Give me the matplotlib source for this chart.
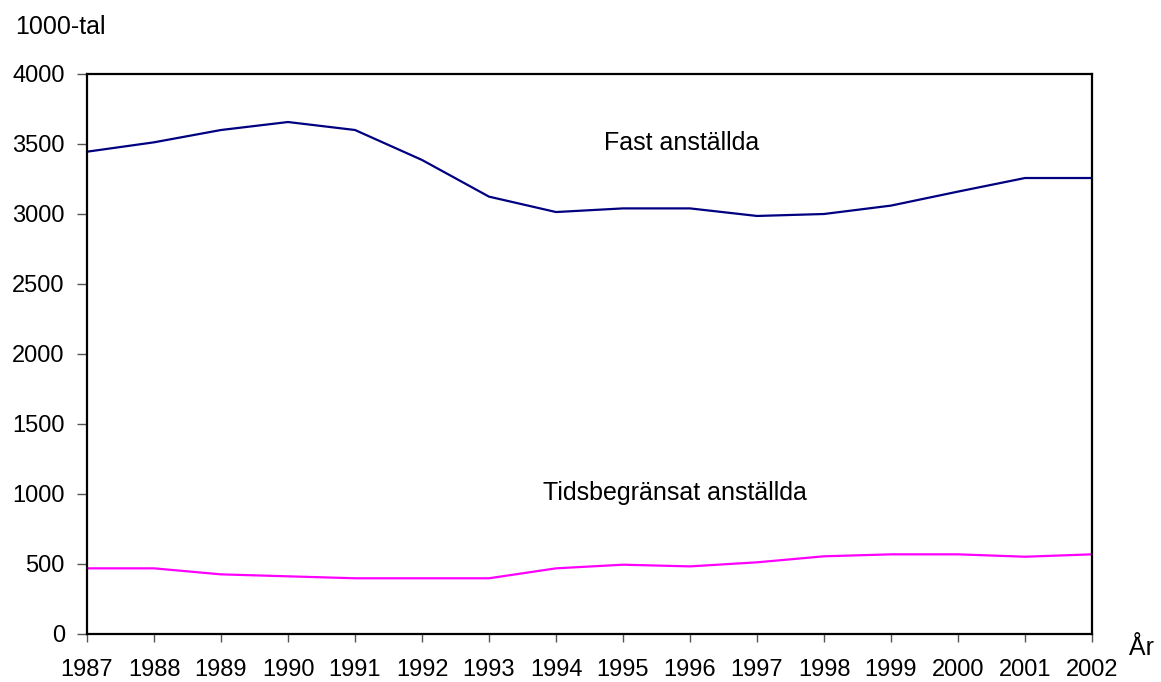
import matplotlib
matplotlib.use("Agg")
import matplotlib.pyplot as plt

years = list(range(1987, 2003))
fast = [3445, 3512, 3600, 3657, 3600, 3386, 3124, 3014, 3040, 3040, 2986, 3000, 3060, 3160, 3257, 3257]
tids = [469, 469, 426, 412, 398, 398, 398, 469, 495, 483, 512, 555, 569, 569, 552, 569]
yticks = [0, 500, 1000, 1500, 2000, 2500, 3000, 3500, 4000]

plt.rcParams['font.family'] = ['Liberation Sans', 'DejaVu Sans']
FS = 17
FT = 18

fig = plt.figure(figsize=(11.61, 6.82), dpi=100)
ax = fig.add_axes([87/1161, 1-634/682, (1092-87)/1161, (634-74)/682])

ax.plot(years, fast, color='#000080', lw=1.6)
ax.plot(years, tids, color='#FF00FF', lw=1.6)

ax.set_xlim(years[0], years[-1])
ax.set_ylim(0, 4000)
ax.set_xticks(years)
ax.set_xticklabels([str(y) for y in years])
ax.set_yticks(yticks)
ax.tick_params(axis='both', direction='out', width=1, labelsize=FS, color='#555555')
ax.tick_params(axis='x', length=6, pad=12)
ax.tick_params(axis='y', length=7, pad=9)
for s in ax.spines.values():
    s.set_linewidth(1.6)
    s.set_color('black')

fig.text(682/1161, 1-143/682, 'Fast anställda', ha='center', va='center', fontsize=FT)
fig.text(675/1161, 1-493/682, 'Tidsbegränsat anställda', ha='center', va='center', fontsize=FT)
fig.text(15/1161, 1-27/682, '1000-tal', ha='left', va='center', fontsize=FT)
fig.text(1129/1161, 1-648/682, 'År', ha='left', va='center', fontsize=FT)

fig.savefig('out.png', dpi=100)
